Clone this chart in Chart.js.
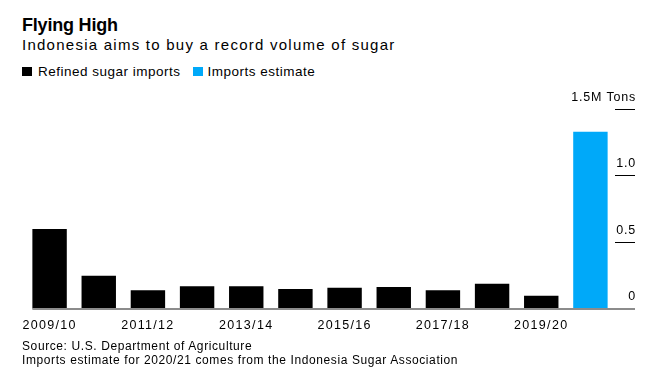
<!DOCTYPE html>
<html>
<head>
<meta charset="utf-8">
<script src="https://cdn.jsdelivr.net/npm/chart.js@4.4.1/dist/chart.umd.min.js"></script>
<style>
  html, body { margin: 0; padding: 0; background: #fff; }
  body { width: 656px; height: 372px; position: relative; overflow: hidden;
         font-family: 'Liberation Sans', Arial, Helvetica, sans-serif; color: #000; }
  #c { position: absolute; left: 0; top: 0; }
  .txt { position: absolute; left: 22px; white-space: nowrap; }
  #title { top: 15.8px; font-size: 18px; line-height: 18px; font-weight: bold; letter-spacing: -0.2px; }
  #subtitle { top: 36.8px; font-size: 15px; line-height: 15px; letter-spacing: 1.25px; }
  #legend { top: 64.6px; font-size: 13.5px; line-height: 13.5px; letter-spacing: 0.5px; left: 22px; }
  #legend span.sw { display: inline-block; width: 10px; height: 9.5px; vertical-align: -0.5px; }
  .foot { font-size: 12px; line-height: 12px; letter-spacing: 0.6px; }
  #f1 { top: 340.3px; }
  #f2 { top: 353.8px; }
</style>
</head>
<body>
<div id="title" class="txt">Flying High</div>
<div id="subtitle" class="txt">Indonesia aims to buy a record volume of sugar</div>
<div id="legend" class="txt"><span class="sw" style="background:#000"></span><span style="margin-left:6px">Refined sugar imports</span><span class="sw" style="background:#00a9f9;margin-left:12px"></span><span style="margin-left:5px">Imports estimate</span></div>
<canvas id="c" width="656" height="372"></canvas>
<div id="f1" class="txt foot">Source: U.S. Department of Agriculture</div>
<div id="f2" class="txt foot">Imports estimate for 2020/21 comes from the Indonesia Sugar Association</div>
<script>
// ---- data (million tons) ----
const categories = ['2009/10','2010/11','2011/12','2012/13','2013/14','2014/15','2015/16','2016/17','2017/18','2018/19','2019/20','2020/21'];
const refinedImports = [0.60, 0.25, 0.14, 0.17, 0.17, 0.15, 0.16, 0.165, 0.14, 0.19, 0.10, null];
const importsEstimate = [null, null, null, null, null, null, null, null, null, null, null, 1.33];
const yTickValues = [0, 0.5, 1.0, 1.5];
const yTickLabels = ['0', '0.5', '1.0', '1.5M Tons'];

const BLACK = '#000000';
const BLUE = '#00a9f9';
const AXIS_GRAY = '#8c8c8c';

const customAxis = {
  id: 'customAxis',
  beforeDraw(chart) {
    chart.ctx.letterSpacing = '1.3px';
  },
  afterDatasetsDraw(chart) {
    const ctx = chart.ctx;
    const y = chart.scales.y;
    const first = chart.getDatasetMeta(0).data[0];
    const x0 = first.x - first.width / 2;
    const x1 = y.left + 20;
    const py = y.getPixelForValue(0);
    ctx.save();
    ctx.strokeStyle = AXIS_GRAY;
    ctx.lineWidth = 2;
    ctx.beginPath();
    ctx.moveTo(x0, py);
    ctx.lineTo(x1, py);
    ctx.stroke();
    ctx.restore();
  },
  afterDraw(chart) {
    const ctx = chart.ctx;
    const y = chart.scales.y;
    ctx.save();
    ctx.letterSpacing = '0.8px';
    ctx.font = "12.5px 'Liberation Sans', Arial, sans-serif";
    ctx.fillStyle = BLACK;
    ctx.textAlign = 'right';
    ctx.textBaseline = 'alphabetic';
    yTickValues.forEach((v, i) => {
      const py = y.getPixelForValue(v);
      ctx.fillText(yTickLabels[i], y.left + 21, py - (v === 0 ? 9.5 : 8.3));
    });
    ctx.restore();
  }
};

Chart.defaults.font.family = "'Liberation Sans', Arial, sans-serif";
Chart.defaults.color = BLACK;

new Chart(document.getElementById('c'), {
  type: 'bar',
  data: {
    labels: categories,
    datasets: [
      { label: 'Refined sugar imports', data: refinedImports, backgroundColor: BLACK, borderWidth: 0 },
      { label: 'Imports estimate', data: importsEstimate, backgroundColor: BLUE, borderWidth: 0 }
    ]
  },
  options: {
    responsive: false,
    animation: false,
    devicePixelRatio: 1,
    layout: { padding: { left: 25, right: 0, top: 109, bottom: 0 } },
    datasets: { bar: { grouped: false, categoryPercentage: 1.0, barPercentage: 0.7 } },
    plugins: { legend: { display: false }, tooltip: { enabled: false }, title: { display: false } },
    scales: {
      x: {
        grid: { display: false },
        border: { display: false },
        ticks: {
          autoSkip: false, maxRotation: 0, minRotation: 0, padding: 1.5,
          color: BLACK,
          font: { size: 12.5 },
          callback: (v, i) => (i % 2 === 0 ? categories[i] : '')
        },
        afterFit: (s) => { s.height = 63; }
      },
      y: {
        position: 'right',
        min: 0, max: 1.5,
        afterBuildTicks: (s) => { s.ticks = yTickValues.map(v => ({ value: v })); },
        ticks: { display: false },
        border: { display: false },
        grid: {
          drawOnChartArea: false, drawTicks: true, tickLength: 20, lineWidth: 1,
          color: (c) => (c.tick && c.tick.value === 0 ? 'rgba(0,0,0,0)' : BLACK)
        },
        afterFit: (s) => { s.width = 41; }
      }
    }
  },
  plugins: [customAxis]
});
</script>
</body>
</html>
